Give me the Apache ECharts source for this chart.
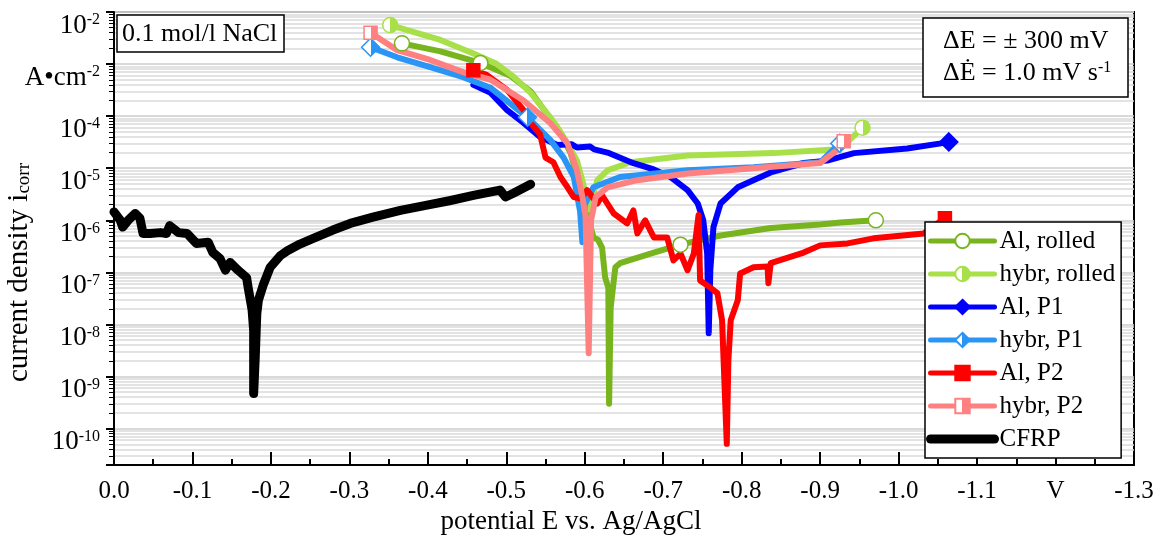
<!DOCTYPE html>
<html>
<head>
<meta charset="utf-8">
<script src="https://cdn.jsdelivr.net/npm/echarts@6/dist/echarts.min.js"></script>
<style>
  html, body { margin: 0; padding: 0; background: #fff; }
  #chart { width: 1159px; height: 538px; }
</style>
</head>
<body>
<div id="chart"></div>
<script>
// potential E (V vs. Ag/AgCl) and current density i (A/cm2)
const alRolledE = [-0.367, -0.416, -0.467, -0.505, -0.531, -0.556, -0.570, -0.582, -0.594, -0.603, -0.611, -0.617, -0.622, -0.626, -0.630, -0.631, -0.633, -0.637, -0.639, -0.645, -0.688, -0.722, -0.773, -0.837, -0.900, -0.926, -0.971]
const alRolledI = [2.5e-3, 1.75e-3, 1.05e-3, 6.0e-4, 3.0e-4, 9.0e-5, 4.5e-5, 1.95e-5, 4.3e-6, 1.35e-6, 4.7e-7, 4.2e-7, 3.0e-7, 7.9e-8, 5.1e-8, 3.0e-10, 2.1e-8, 7.0e-8, 1.25e-7, 1.5e-7, 2.4e-7, 3.4e-7, 5.1e-7, 7.1e-7, 8.3e-7, 9.1e-7, 1.0e-6]
const alRolledMarks = [0, 2, 21, 26]

const hybrRolledE = [-0.352, -0.416, -0.458, -0.488, -0.510, -0.531, -0.556, -0.565, -0.578, -0.590, -0.598, -0.604, -0.610, -0.616, -0.629, -0.658, -0.731, -0.841, -0.917, -0.935, -0.954]
const hybrRolledI = [5.6e-3, 2.9e-3, 1.6e-3, 1.0e-3, 5.6e-4, 2.8e-4, 9.5e-5, 6.2e-5, 3.0e-5, 1.4e-5, 5.1e-6, 1.6e-6, 2.8e-6, 5.9e-6, 9.1e-6, 1.3e-5, 1.75e-5, 1.95e-5, 2.3e-5, 3.2e-5, 6.0e-5]
const hybrRolledMarks = [0, 20]

const alP1E = [-0.458, -0.480, -0.501, -0.522, -0.543, -0.565, -0.583, -0.590, -0.607, -0.612, -0.629, -0.662, -0.688, -0.709, -0.731, -0.744, -0.751, -0.756, -0.758, -0.760, -0.764, -0.773, -0.795, -0.837, -0.879, -0.909, -0.943, -1.011, -1.054, -1.064]
const alP1I = [4.0e-4, 2.8e-4, 1.3e-4, 7.4e-5, 4.0e-5, 2.8e-5, 2.9e-5, 2.5e-5, 2.6e-5, 2.3e-5, 2.0e-5, 1.25e-5, 9.5e-6, 6.8e-6, 3.8e-6, 2.1e-6, 1.0e-6, 2.3e-7, 6.8e-9, 1.1e-7, 7.4e-7, 2.1e-6, 4.3e-6, 8.3e-6, 1.26e-5, 1.4e-5, 1.95e-5, 2.4e-5, 3.0e-5, 3.2e-5]
const alP1Marks = [29]

const hybrP1E = [-0.327, -0.361, -0.403, -0.445, -0.480, -0.527, -0.556, -0.573, -0.586, -0.594, -0.597, -0.600, -0.611, -0.645, -0.731, -0.815, -0.900, -0.925]
const hybrP1I = [2.1e-3, 1.35e-3, 8.7e-4, 5.6e-4, 3.5e-4, 9.5e-5, 3.5e-5, 1.6e-5, 6.8e-6, 1.5e-6, 3.8e-7, 2.0e-6, 4.3e-6, 6.8e-6, 9.1e-6, 1.05e-5, 1.3e-5, 3.0e-5]
const hybrP1Marks = [0, 5, 17]

const alP2E = [-0.458, -0.475, -0.501, -0.522, -0.531, -0.543, -0.550, -0.560, -0.569, -0.578, -0.586, -0.595, -0.603, -0.616, -0.622, -0.637, -0.654, -0.662, -0.667, -0.677, -0.688, -0.705, -0.713, -0.722, -0.731, -0.739, -0.745, -0.747, -0.760, -0.769, -0.775, -0.781, -0.783, -0.786, -0.795, -0.798, -0.807, -0.815, -0.833, -0.834, -0.837, -0.879, -0.900, -0.935, -0.968, -1.032, -1.059]
const alP2I = [7.6e-4, 6.2e-4, 3.2e-4, 1.3e-4, 7.4e-5, 4.5e-5, 1.6e-5, 1.3e-5, 6.8e-6, 4.3e-6, 2.8e-6, 2.6e-6, 3.8e-6, 2.1e-6, 3.0e-6, 1.35e-6, 8.7e-7, 1.55e-6, 5.6e-7, 1.0e-6, 4.7e-7, 4.7e-7, 1.7e-7, 2.3e-7, 1.1e-7, 2.3e-7, 1.26e-6, 7.0e-8, 5.1e-8, 4.0e-8, 1.2e-8, 5.1e-11, 2.0e-9, 1.2e-8, 2.9e-8, 9.5e-8, 1.1e-7, 1.25e-7, 1.3e-7, 6.2e-8, 1.5e-7, 2.4e-7, 3.3e-7, 3.6e-7, 4.5e-7, 5.6e-7, 1.1e-6]
const alP2Marks = [0, 46]

const hybrP2E = [-0.327, -0.361, -0.403, -0.445, -0.480, -0.522, -0.556, -0.578, -0.590, -0.597, -0.601, -0.605, -0.608, -0.614, -0.629, -0.667, -0.731, -0.815, -0.900, -0.909, -0.926, -0.930]
const hybrP2I = [4.0e-3, 1.85e-3, 1.2e-3, 7.0e-4, 5.0e-4, 2.0e-4, 7.4e-5, 3.0e-5, 9.1e-6, 2.8e-6, 1.2e-6, 2.8e-9, 1.0e-6, 2.8e-6, 4.3e-6, 5.9e-6, 7.9e-6, 1.0e-5, 1.26e-5, 1.6e-5, 2.5e-5, 3.3e-5]
const hybrP2Marks = [0, 21]

const cfrpE = [0.0, -0.008, -0.011, -0.018, -0.027, -0.033, -0.037, -0.046, -0.059, -0.067, -0.071, -0.082, -0.093, -0.105, -0.120, -0.126, -0.135, -0.142, -0.148, -0.158, -0.169, -0.171, -0.176, -0.178, -0.178, -0.180, -0.182, -0.184, -0.190, -0.199, -0.212, -0.221, -0.237, -0.254, -0.279, -0.301, -0.330, -0.365, -0.399, -0.429, -0.458, -0.492, -0.499, -0.509, -0.531]
const cfrpI = [1.45e-6, 1.0e-6, 7.4e-7, 1.0e-6, 1.35e-6, 1.1e-6, 5.6e-7, 5.6e-7, 5.8e-7, 5.6e-7, 7.9e-7, 5.8e-7, 5.6e-7, 3.6e-7, 3.8e-7, 2.4e-7, 1.85e-7, 1.1e-7, 1.55e-7, 1.1e-7, 7.9e-8, 5.1e-8, 1.9e-8, 7.6e-9, 4.7e-10, 2.3e-9, 1.6e-8, 2.9e-8, 5.6e-8, 1.25e-7, 2.1e-7, 2.6e-7, 3.5e-7, 4.5e-7, 6.5e-7, 8.7e-7, 1.15e-6, 1.55e-6, 1.95e-6, 2.4e-6, 3.0e-6, 3.8e-6, 2.8e-6, 3.3e-6, 4.9e-6]

const xTickLabels = ['0.0', '-0.1', '-0.2', '-0.3', '-0.4', '-0.5', '-0.6', '-0.7', '-0.8', '-0.9', '-1.0', '-1.1', 'V', '-1.3']
// decade labels from 1e-2 down to 1e-10, the 1e-3 slot carries the unit
const yTickLabels = ['10{sup|-2}', 'A•cm{sup|-2}', '10{sup|-4}', '10{sup|-5}', '10{sup|-6}', '10{sup|-7}', '10{sup|-8}', '10{sup|-9}', '10{sup|-10}']

const FONT = 'Liberation Serif'

// minor grid values 2..9 x 10^n inside the axis range
const minorValues = []
for (let n = -11; n <= -3; n++) {
  for (let k = 2; k <= 9; k++) {
    const v = k * Math.pow(10, n)
    if (v >= 2e-11 && v < 1e-2) minorValues.push(v)
  }
}

function halfFill(c) {
  return new echarts.graphic.LinearGradient(0, 0, 1, 0, [
    { offset: 0, color: '#fff' }, { offset: 0.5, color: '#fff' },
    { offset: 0.5, color: c }, { offset: 1, color: c }
  ])
}

const curves = [
  { name: 'Al, rolled', E: alRolledE, I: alRolledI, marks: alRolledMarks, color: '#78b41e', symbol: 'circle', size: 15, fill: '#fff' },
  { name: 'hybr, rolled', E: hybrRolledE, I: hybrRolledI, marks: hybrRolledMarks, color: '#a8e04a', symbol: 'circle', size: 15, fill: 'half' },
  { name: 'Al, P1', E: alP1E, I: alP1I, marks: alP1Marks, color: '#0000ff', symbol: 'diamond', size: 18, fill: 'solid' },
  { name: 'hybr, P1', E: hybrP1E, I: hybrP1I, marks: hybrP1Marks, color: '#2a95f5', symbol: 'diamond', size: 18, fill: 'half' },
  { name: 'Al, P2', E: alP2E, I: alP2I, marks: alP2Marks, color: '#ff0000', symbol: 'rect', size: 13, fill: 'solid' },
  { name: 'hybr, P2', E: hybrP2E, I: hybrP2I, marks: hybrP2Marks, color: '#ff8080', symbol: 'rect', size: 13, fill: 'half' },
  { name: 'CFRP', E: cfrpE, I: cfrpI, marks: [], color: '#000000', symbol: 'none', size: 0, fill: 'solid', width: 9 }
]

function makeSeries(d) {
  let fill = d.fill
  if (fill === 'half') fill = halfFill(d.color)
  else if (fill === 'solid') fill = d.color
  return {
    name: d.name,
    type: 'line',
    data: d.E.map((e, k) => [e, d.I[k]]),
    symbol: d.symbol,
    symbolSize: (val, p) => d.marks.indexOf(p.dataIndex) >= 0 ? d.size : 0,
    showSymbol: true,
    showAllSymbol: true,
    itemStyle: { color: fill, borderColor: d.color, borderWidth: 1.5 },
    lineStyle: { color: d.color, width: d.width || 6, cap: 'round', join: 'round' },
    emphasis: { disabled: true },
    animation: false
  }
}

function legendItem(d) {
  if (d.symbol === 'none') {
    return { name: d.name, itemStyle: { opacity: 0 }, lineStyle: { width: 9 } }
  }
  return d.name
}

const chart = echarts.init(document.getElementById('chart'))

chart.setOption({
  animation: false,
  grid: {
    left: 114, right: 25, top: 12, bottom: 73,
    outerBoundsMode: 'none',
    containLabel: false,
    show: true, borderColor: '#000', borderWidth: 2
  },
  legend: {
    orient: 'vertical',
    left: 925, top: 222,
    padding: [4, 6, 4, 1],
    itemWidth: 64, itemHeight: 18, itemGap: 3,
    backgroundColor: '#fff', borderColor: '#000', borderWidth: 1.5,
    lineStyle: { width: 5, cap: 'round' },
    textStyle: { fontFamily: FONT, fontSize: 25, color: '#000', lineHeight: 30 },
    data: curves.map(legendItem)
  },
  xAxis: {
    type: 'value',
    min: -1.3, max: 0, interval: 0.1,
    inverse: true,
    name: 'potential E vs. Ag/AgCl',
    nameLocation: 'middle',
    nameGap: 42,
    nameTextStyle: { fontFamily: FONT, fontSize: 27, color: '#000', padding: [0, 106, 0, 0] },
    axisLine: { lineStyle: { color: '#000', width: 2 } },
    axisTick: { inside: true, length: 13, lineStyle: { color: '#000', width: 2 } },
    minorTick: { show: true, splitNumber: 2, length: 6, lineStyle: { color: '#000', width: 2 } },
    splitLine: { show: false },
    axisLabel: {
      margin: 14,
      fontFamily: FONT, fontSize: 25, color: '#000',
      formatter: v => xTickLabels[Math.round(-v * 10)]
    }
  },
  yAxis: [{
    type: 'log',
    min: 2e-11, max: 1e-2,
    name: 'current density i{sub|corr}',
    nameLocation: 'middle',
    nameGap: 80,
    nameMoveOverlap: false,
    nameTextStyle: {
      fontFamily: FONT, fontSize: 29, color: '#000', padding: [0, 68, 0, 0],
      rich: { sub: { fontFamily: FONT, fontSize: 19, color: '#000', verticalAlign: 'bottom' } }
    },
    axisLine: { show: true, lineStyle: { color: '#000', width: 2 } },
    axisTick: { show: true, length: 8, lineStyle: { color: '#000', width: 2 } },
    splitLine: { show: true, lineStyle: { color: '#cccccc', width: 1.5 } },
    axisLabel: {
      margin: 14,
      verticalAlign: 'top',
      fontFamily: FONT, fontSize: 27, color: '#000',
      formatter: v => {
        const p = Math.log10(v)
        const n = Math.round(p)
        if (Math.abs(p - n) > 1e-6) return ''
        return yTickLabels[-n - 2] || ''
      },
      rich: { sup: { fontFamily: FONT, fontSize: 16, color: '#000', verticalAlign: 'top' } }
    }
  }, {
    type: 'log',
    min: 2e-11, max: 1e-2,
    position: 'left',
    axisLine: { show: false },
    axisLabel: { show: false },
    axisTick: { show: true, length: 5, customValues: minorValues, lineStyle: { color: '#000', width: 1 } },
    splitLine: { show: true, lineStyle: { color: '#dadada', width: 1.5 } }
  }],
  graphic: [
    { type: 'rect', z: 10, shape: { x: 117, y: 15, width: 167, height: 37 }, style: { fill: '#fff', stroke: '#000', lineWidth: 1.5 } },
    { type: 'text', z: 11, x: 122, y: 34, style: { text: '0.1 mol/l NaCl', fontFamily: FONT, fontSize: 26, fill: '#000', verticalAlign: 'middle' } },
    { type: 'rect', z: 10, shape: { x: 923, y: 18, width: 205, height: 79 }, style: { fill: '#fff', stroke: '#000', lineWidth: 1.5 } },
    { type: 'text', z: 11, x: 943, y: 41, style: { text: 'ΔE = ± 300 mV', fontFamily: FONT, fontSize: 26, fill: '#000', verticalAlign: 'middle' } },
    {
      type: 'text', z: 11, x: 943, y: 73,
      style: {
        text: 'ΔĖ = 1.0 mV s{sup|-1}', fontFamily: FONT, fontSize: 26, fill: '#000', verticalAlign: 'middle',
        rich: { sup: { fontFamily: FONT, fontSize: 16, fill: '#000', verticalAlign: 'top' } }
      }
    }
  ],
  series: curves.map(makeSeries)
})
</script>
</body>
</html>
